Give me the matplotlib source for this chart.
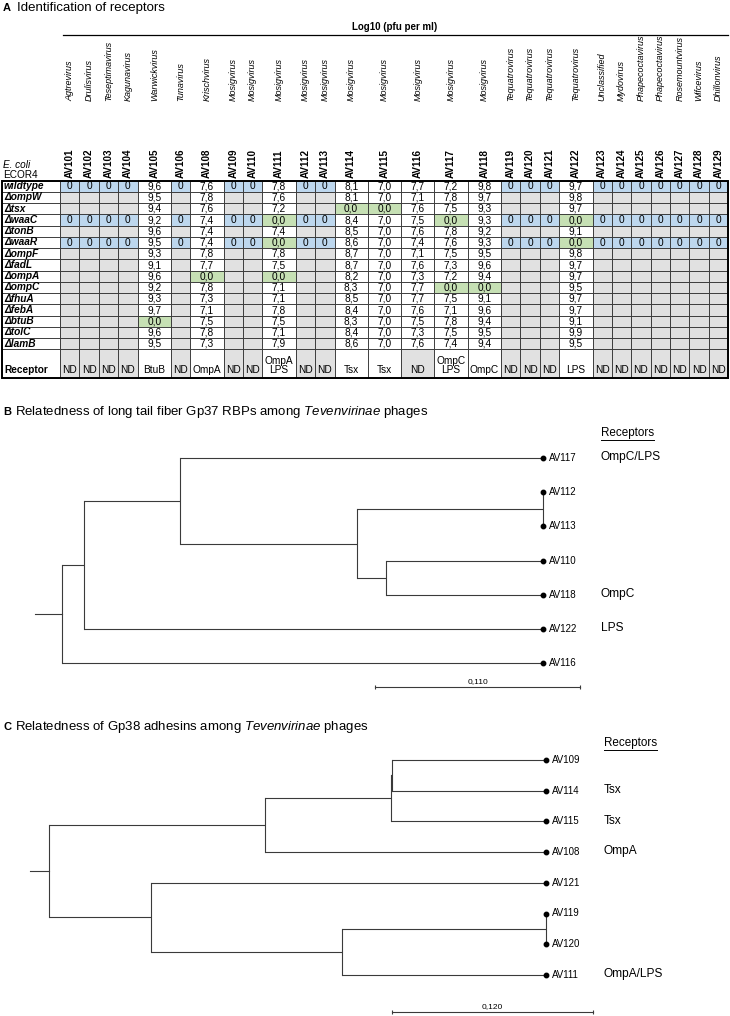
import matplotlib
matplotlib.use('Agg')
import matplotlib.pyplot as plt
from matplotlib.patches import Rectangle

plt.rcParams['font.family'] = ['Liberation Sans', 'DejaVu Sans']
plt.rcParams['mathtext.fontset'] = 'custom'
plt.rcParams['mathtext.rm'] = 'Liberation Sans'
plt.rcParams['mathtext.it'] = 'Liberation Sans:italic'

# -- Panel A data -----
phages = ['AV101', 'AV102', 'AV103', 'AV104', 'AV105', 'AV106', 'AV108', 'AV109',
          'AV110', 'AV111', 'AV112', 'AV113', 'AV114', 'AV115', 'AV116', 'AV117',
          'AV118', 'AV119', 'AV120', 'AV121', 'AV122', 'AV123', 'AV124', 'AV125',
          'AV126', 'AV127', 'AV128', 'AV129']
genera = ['Agtrevirus', 'Drulisvirus', 'Teseptimavirus', 'Kagunavirus', 'Warwickvirus',
          'Tunavirus', 'Krischvirus'] + ['Mosigvirus'] * 10 + ['Tequatrovirus'] * 4 + \
         ['Unclassified', 'Mydovirus', 'Phapecoctavirus', 'Phapecoctavirus',
          'Rosemountvirus', 'Wifcevirus', 'Dhillonvirus']
mutants = ['wildtype', 'ΔompW', 'Δtsx', 'ΔwaaC', 'ΔtonB', 'ΔwaaR', 'ΔompF', 'ΔfadL',
           'ΔompA', 'ΔompC', 'ΔfhuA', 'ΔfebA', 'ΔbtuB', 'ΔtolC', 'ΔlamB']
# strains on which the non-infecting phages were spotted (titer 0)
tested_rows = ['wildtype', 'ΔwaaC', 'ΔwaaR']
titers = {
    'AV105': [9.6, 9.5, 9.4, 9.2, 9.6, 9.5, 9.3, 9.1, 9.6, 9.2, 9.3, 9.7, 0.0, 9.6, 9.5],
    'AV108': [7.6, 7.8, 7.6, 7.4, 7.4, 7.4, 7.8, 7.7, 0.0, 7.8, 7.3, 7.1, 7.5, 7.8, 7.3],
    'AV111': [7.8, 7.6, 7.2, 0.0, 7.4, 0.0, 7.8, 7.5, 0.0, 7.1, 7.1, 7.8, 7.5, 7.1, 7.9],
    'AV114': [8.1, 8.1, 0.0, 8.4, 8.5, 8.6, 8.7, 8.7, 8.2, 8.3, 8.5, 8.4, 8.3, 8.4, 8.6],
    'AV115': [7.0, 7.0, 0.0, 7.0, 7.0, 7.0, 7.0, 7.0, 7.0, 7.0, 7.0, 7.0, 7.0, 7.0, 7.0],
    'AV116': [7.7, 7.1, 7.6, 7.5, 7.6, 7.4, 7.1, 7.6, 7.3, 7.7, 7.7, 7.6, 7.5, 7.3, 7.6],
    'AV117': [7.2, 7.8, 7.5, 0.0, 7.8, 7.6, 7.5, 7.3, 7.2, 0.0, 7.5, 7.1, 7.8, 7.5, 7.4],
    'AV118': [9.8, 9.7, 9.3, 9.3, 9.2, 9.3, 9.5, 9.6, 9.4, 0.0, 9.1, 9.6, 9.4, 9.5, 9.4],
    'AV122': [9.7, 9.8, 9.7, 0.0, 9.1, 0.0, 9.8, 9.7, 9.7, 9.5, 9.7, 9.7, 9.1, 9.9, 9.5],
}
receptors = ['ND', 'ND', 'ND', 'ND', 'BtuB', 'ND', 'OmpA', 'ND', 'ND', 'OmpA\nLPS',
             'ND', 'ND', 'Tsx', 'Tsx', 'ND', 'OmpC\nLPS', 'OmpC', 'ND', 'ND', 'ND',
             'LPS', 'ND', 'ND', 'ND', 'ND', 'ND', 'ND', 'ND']

# -- Panel B data (Gp37 tree, node heights in substitutions/site) -----
b_tips = ['AV117', 'AV112', 'AV113', 'AV110', 'AV118', 'AV122', 'AV116']
b_nodes = [['AV112', 'AV113'], ['AV110', 'AV118'], ['n0', 'n1'], ['AV117', 'n2'],
           ['n3', 'AV122'], ['n4', 'AV116']]
b_heights = [0.000, 0.084, 0.100, 0.195, 0.246, 0.258]
b_receptors = {'AV117': 'OmpC/LPS', 'AV118': 'OmpC', 'AV122': 'LPS'}
b_scale = 0.110

# -- Panel C data (Gp38 tree) -----
c_tips = ['AV109', 'AV114', 'AV115', 'AV108', 'AV121', 'AV119', 'AV120', 'AV111']
c_nodes = [['AV109', 'AV114'], ['n0', 'AV115'], ['n1', 'AV108'], ['AV119', 'AV120'],
           ['n3', 'AV111'], ['AV121', 'n4'], ['n2', 'n5']]
c_heights = [0.092, 0.0925, 0.168, 0.000, 0.122, 0.236, 0.297]
c_receptors = {'AV114': 'Tsx', 'AV115': 'Tsx', 'AV108': 'OmpA', 'AV111': 'OmpA/LPS'}
c_scale = 0.120

# -- Layout (pixels) -----
W, H = 730, 1016
LAB_X0, LAB_X1 = 2, 60
NARROW, WIDE = 19.4, 33.3
ROW_TOP, ROW_H, REC_H = 180.5, 11.25, 29.0
BLUE, GREEN, GREY = '#bdd7ee', '#c6e0b4', '#e1e1e1'
EDGE = '#303030'
LINE = '#3a3a3a'

fig = plt.figure(figsize=(W / 100, H / 100), dpi=100)
ax = fig.add_axes([0, 0, 1, 1])
ax.set_xlim(0, W)
ax.set_ylim(H, 0)
ax.axis('off')


def cell(x, y, w, h, face='white', lw=0.6):
    ax.add_patch(Rectangle((x, y), w, h, facecolor=face, edgecolor=EDGE, lw=lw))


# -- Panel A -----
ax.text(3, 8, 'A', fontsize=8, fontweight='bold', va='center')
ax.text(17, 8, 'Identification of receptors', fontsize=9.5, va='center')

col_x, col_w = [], []
x = LAB_X1
for p in phages:
    w = WIDE if p in titers else NARROW
    col_x.append(x)
    col_w.append(w)
    x += w
tab_x1 = x

ax.text((LAB_X1 + tab_x1) / 2, 27, 'Log10 (pfu per ml)', fontsize=7, fontweight='bold',
        ha='center', va='center')
ax.plot([LAB_X1 + 3, tab_x1], [34.5, 34.5], color='black', lw=0.9)

for p, g, cx, cw in zip(phages, genera, col_x, col_w):
    ax.text(cx + cw / 2, 101, g, rotation=90, fontsize=6.5, style='italic',
            ha='center', va='bottom')
    ax.text(cx + cw / 2, 177.5, p, rotation=90, fontsize=7.1, fontweight='bold',
            ha='center', va='bottom')

ax.text(3, 165, 'E. coli', fontsize=7.2, style='italic', va='center')
ax.text(3, 175, 'ECOR4', fontsize=7.2, va='center')

for i, m in enumerate(mutants):
    y = ROW_TOP + i * ROW_H
    cell(LAB_X0, y, LAB_X1 - LAB_X0, ROW_H)
    ax.text(LAB_X0 + 2, y + ROW_H / 2, m, fontsize=7.3, fontweight='bold',
            style='italic', va='center')
    for p, cx, cw in zip(phages, col_x, col_w):
        if p in titers:
            v = titers[p][i]
            cell(cx, y, cw, ROW_H, GREEN if v == 0 else 'white')
            ax.text(cx + cw / 2, y + ROW_H / 2 + 0.3, f'{v:.1f}'.replace('.', ','),
                    fontsize=7.3, ha='center', va='center')
        elif m in tested_rows:
            cell(cx, y, cw, ROW_H, BLUE)
            ax.text(cx + cw / 2, y + ROW_H / 2 + 0.3, '0', fontsize=7.3,
                    ha='center', va='center')
        else:
            cell(cx, y, cw, ROW_H, GREY)

y_rec = ROW_TOP + len(mutants) * ROW_H
cell(LAB_X0, y_rec, LAB_X1 - LAB_X0, REC_H)
ax.text(LAB_X0 + 2, y_rec + REC_H - 8, 'Receptor', fontsize=7.3, fontweight='bold',
        va='center')
for r, cx, cw in zip(receptors, col_x, col_w):
    cell(cx, y_rec, cw, REC_H, GREY if r == 'ND' else 'white')
    for k, line in enumerate(reversed(r.split('\n'))):
        ax.text(cx + cw / 2, y_rec + REC_H - 8 - k * 9.5, line, fontsize=7.3,
                ha='center', va='center')

ax.add_patch(Rectangle((LAB_X0, ROW_TOP), tab_x1 - LAB_X0,
                       len(mutants) * ROW_H + REC_H, fill=False,
                       edgecolor='black', lw=1.4))


def title(y, letter, text):
    ax.text(3, y, letter, fontsize=8, fontweight='bold', va='center')
    ax.text(15, y, text, fontsize=9.5, va='center')


title(412, 'B', r'Relatedness of long tail fiber Gp37 RBPs among $\mathit{Tevenvirinae}$ phages')
title(727, 'C', r'Relatedness of Gp38 adhesins among $\mathit{Tevenvirinae}$ phages')


def tree_axes(tip_px, unit_px, top_px, step_px):
    t = fig.add_axes([0, 0, 1, 1])
    t.set_xlim(tip_px / unit_px, (tip_px - W) / unit_px)
    t.set_ylim((H - top_px) / step_px, -top_px / step_px)
    t.axis('off')
    t.patch.set_alpha(0)
    return t


def draw_tree(t, tips, nodes, heights, rec, scale, scale_h, scale_y, head_y, stub):
    pos = {name: (0.0, i) for i, name in enumerate(tips)}
    for k, (kids, h) in enumerate(zip(nodes, heights)):
        ys = [pos[c][1] for c in kids]
        for c in kids:
            cx, cy = pos[c]
            t.plot([h, cx], [cy, cy], color=LINE, lw=0.8, solid_capstyle='butt')
        t.plot([h, h], [min(ys), max(ys)], color=LINE, lw=0.8)
        pos[f'n{k}'] = (h, (min(ys) + max(ys)) / 2)
    rh, ry = pos[f'n{len(nodes) - 1}']
    t.plot([rh + stub, rh], [ry, ry], color=LINE, lw=0.8)
    for i, name in enumerate(tips):
        t.plot(0, i, 'o', color='black', ms=3.2)
        t.annotate(name, (0, i), xytext=(4, 0), textcoords='offset points',
                   fontsize=7, va='center')
        if name in rec:
            t.annotate(rec[name], (0, i), xytext=(41.5, 0.5), textcoords='offset points',
                       fontsize=8.6, va='center')
    head = t.annotate('Receptors', (0, head_y), xytext=(41.5, 0), textcoords='offset points',
                      fontsize=8.4, va='center')
    fig.canvas.draw()
    bb = head.get_window_extent().transformed(ax.transData.inverted())
    ax.plot([bb.x0, bb.x1], [bb.y0 + 0.5, bb.y0 + 0.5], color='black', lw=0.7)
    t.plot([scale_h, scale_h - scale], [scale_y, scale_y], color=LINE, lw=0.8)
    t.plot([scale_h, scale_h - scale], [scale_y, scale_y], '|', color=LINE, ms=3, mew=0.8)
    t.text(scale_h - scale / 2, scale_y - 0.05, f'{scale:.3f}'.replace('.', ','),
           fontsize=6, ha='center', va='bottom')


tb = tree_axes(543, 1864, 458, 34.2)
draw_tree(tb, b_tips, b_nodes, b_heights, b_receptors, b_scale, 0.0901, 6.7, -0.73, 0.0145)

tc = tree_axes(546, 1675, 760, 30.7)
draw_tree(tc, c_tips, c_nodes, c_heights, c_receptors, c_scale, 0.0919, 8.2, -0.55, 0.011)

fig.savefig('out.png', dpi=100)
